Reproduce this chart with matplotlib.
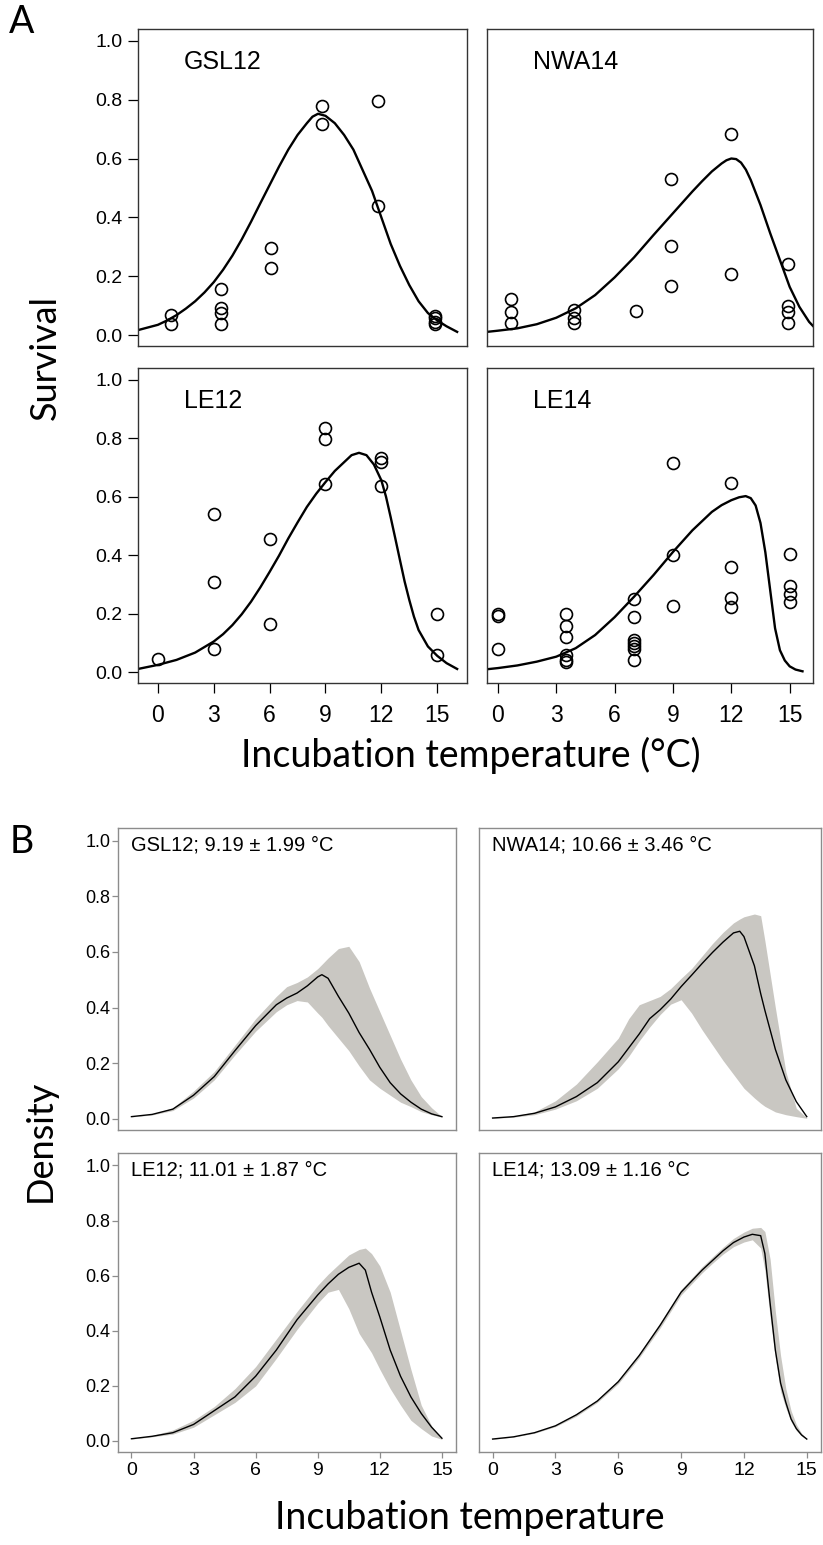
import matplotlib
matplotlib.use("Agg")
import matplotlib.pyplot as plt

plt.rcParams['font.family'] = ['Liberation Sans', 'DejaVu Sans']

# ---------- panel A: survival points + fitted curves ----------
a_names = ["GSL12", "NWA14", "LE12", "LE14"]

gsl12_x = [0.7, 0.7, 3.4, 3.4, 3.4, 3.4, 6.1, 6.1, 8.8, 8.8, 11.8, 11.8, 14.9, 14.9, 14.9, 14.9]
gsl12_y = [0.070, 0.037, 0.155, 0.093, 0.074, 0.037, 0.297, 0.229, 0.779, 0.718, 0.794, 0.440,
           0.065, 0.057, 0.045, 0.037]
nwa14_x = [0.66, 0.66, 0.66, 3.9, 3.9, 3.9, 7.1, 8.9, 8.9, 8.9, 12.0, 12.0, 14.9, 14.9, 14.9, 14.9]
nwa14_y = [0.121, 0.079, 0.040, 0.087, 0.059, 0.040, 0.082, 0.531, 0.303, 0.168, 0.683, 0.206,
           0.240, 0.099, 0.079, 0.040]
le12_x = [0, 3, 3, 3, 6, 6, 9, 9, 9, 12, 12, 12, 15, 15]
le12_y = [0.045, 0.542, 0.307, 0.078, 0.456, 0.166, 0.834, 0.798, 0.644, 0.732, 0.718, 0.638,
          0.199, 0.059]
le14_x = [0, 0, 0, 3.5, 3.5, 3.5, 3.5, 3.5, 3.5, 7, 7, 7, 7, 7, 7, 7, 9, 9, 9,
          12, 12, 12, 12, 15, 15, 15, 15]
le14_y = [0.199, 0.192, 0.078, 0.199, 0.159, 0.119, 0.059, 0.042, 0.036,
          0.249, 0.188, 0.110, 0.099, 0.088, 0.078, 0.040, 0.716, 0.402, 0.226,
          0.647, 0.359, 0.252, 0.224, 0.405, 0.294, 0.269, 0.241]

gsl12_fit_x = [-1.07, 0, 0.5, 1, 1.5, 2, 2.5, 3, 3.5, 4, 4.5, 5, 5.5, 6, 6.5, 7, 7.5, 8, 8.3, 8.6,
               9, 9.5, 10, 10.5, 11, 11.5, 12, 12.5, 13, 13.5, 14, 14.5, 15, 15.5, 16.07]
gsl12_fit_y = [0.017, 0.035, 0.05, 0.068, 0.09, 0.115, 0.145, 0.18, 0.222, 0.27, 0.325, 0.385,
               0.448, 0.51, 0.572, 0.63, 0.68, 0.72, 0.742, 0.752, 0.745, 0.72, 0.68, 0.63,
               0.56, 0.49, 0.40, 0.31, 0.235, 0.17, 0.115, 0.075, 0.05, 0.03, 0.011]
nwa14_fit_x = [-0.56, 0, 1, 2, 3, 4, 5, 6, 7, 8, 9, 10, 10.5, 11, 11.5, 11.75, 12, 12.25, 12.5,
               12.75, 13, 13.5, 14, 14.5, 15, 15.5, 16, 16.2]
nwa14_fit_y = [0.011, 0.015, 0.023, 0.037, 0.059, 0.091, 0.136, 0.196, 0.264, 0.34, 0.414,
               0.488, 0.523, 0.556, 0.583, 0.594, 0.60, 0.598, 0.586, 0.562, 0.527, 0.442,
               0.346, 0.255, 0.164, 0.096, 0.045, 0.031]
le12_fit_x = [-1.07, 0, 1, 2, 3, 3.5, 4, 4.5, 5, 5.5, 6, 6.5, 7, 7.5, 8, 8.5, 9, 9.5, 10, 10.4,
              10.8, 11.2, 11.6, 12, 12.25, 12.5, 12.75, 13, 13.25, 13.5, 13.75, 14, 14.5, 15,
              15.5, 16.07]
le12_fit_y = [0.011, 0.025, 0.042, 0.067, 0.105, 0.13, 0.161, 0.198, 0.241, 0.29, 0.343, 0.398,
              0.457, 0.512, 0.565, 0.61, 0.65, 0.688, 0.718, 0.742, 0.75, 0.742, 0.71, 0.656,
              0.60, 0.53, 0.457, 0.383, 0.31, 0.247, 0.19, 0.144, 0.088, 0.056, 0.031, 0.011]
le14_fit_x = [-0.56, 0, 1, 2, 3, 4, 5, 6, 7, 8, 9, 10, 11, 11.5, 12, 12.4, 12.74, 13, 13.25,
              13.5, 13.75, 14, 14.25, 14.5, 14.75, 15, 15.3, 15.66]
le14_fit_y = [0.010, 0.014, 0.023, 0.036, 0.053, 0.082, 0.127, 0.188, 0.258, 0.332, 0.411,
              0.485, 0.548, 0.571, 0.588, 0.598, 0.602, 0.595, 0.57, 0.51, 0.41, 0.28, 0.15,
              0.075, 0.04, 0.02, 0.009, 0.003]

a_points = [(gsl12_x, gsl12_y), (nwa14_x, nwa14_y), (le12_x, le12_y), (le14_x, le14_y)]
a_fits = [(gsl12_fit_x, gsl12_fit_y), (nwa14_fit_x, nwa14_fit_y),
          (le12_fit_x, le12_fit_y), (le14_fit_x, le14_fit_y)]

# ---------- panel B: density mean + band ----------
b_labels = ["GSL12; 9.19 ± 1.99 °C", "NWA14; 10.66 ± 3.46 °C",
            "LE12; 11.01 ± 1.87 °C", "LE14; 13.09 ± 1.16 °C"]

gsl12_b_x = [0, 1, 2, 3, 4, 5, 6, 7, 7.5, 8, 8.5, 9, 9.2, 9.5, 10, 10.5, 11, 11.5, 12, 12.5,
             13, 13.5, 14, 14.5, 15]
gsl12_b_mean = [0.008, 0.016, 0.035, 0.085, 0.152, 0.245, 0.335, 0.41, 0.434, 0.452, 0.478,
                0.51, 0.518, 0.505, 0.44, 0.38, 0.31, 0.25, 0.185, 0.13, 0.09, 0.06, 0.035,
                0.018, 0.008]
gsl12_b_lo = [0.007, 0.014, 0.03, 0.075, 0.14, 0.23, 0.315, 0.385, 0.41, 0.425, 0.42, 0.38,
              0.365, 0.335, 0.29, 0.245, 0.19, 0.14, 0.11, 0.085, 0.06, 0.044, 0.026, 0.015,
              0.006]
gsl12_b_hi = [0.008, 0.017, 0.04, 0.10, 0.17, 0.265, 0.36, 0.44, 0.475, 0.49, 0.51, 0.54,
              0.555, 0.578, 0.612, 0.62, 0.565, 0.47, 0.385, 0.30, 0.215, 0.14, 0.08, 0.04,
              0.008]

nwa14_b_x = [0, 1, 2, 3, 4, 5, 6, 6.5, 7, 7.5, 8, 8.5, 9, 9.5, 10, 10.5, 11, 11.5, 11.8, 12,
             12.5, 12.8, 13, 13.5, 14, 14.5, 15]
nwa14_b_mean = [0.003, 0.008, 0.02, 0.043, 0.08, 0.13, 0.205, 0.255, 0.305, 0.36, 0.392, 0.43,
                0.475, 0.516, 0.558, 0.598, 0.635, 0.668, 0.674, 0.655, 0.55, 0.45, 0.39,
                0.25, 0.14, 0.062, 0.008]
nwa14_b_lo = [0.002, 0.006, 0.015, 0.035, 0.065, 0.11, 0.18, 0.225, 0.28, 0.33, 0.375, 0.412,
              0.428, 0.38, 0.32, 0.265, 0.21, 0.16, 0.13, 0.11, 0.075, 0.056, 0.045, 0.025,
              0.015, 0.008, 0.002]
nwa14_b_hi = [0.004, 0.01, 0.025, 0.065, 0.125, 0.205, 0.29, 0.36, 0.41, 0.425, 0.44, 0.468,
              0.505, 0.54, 0.585, 0.63, 0.67, 0.704, 0.718, 0.726, 0.736, 0.73, 0.64, 0.40,
              0.17, 0.038, 0.004]

le12_b_x = [0, 1, 2, 3, 4, 5, 6, 7, 8, 9, 9.5, 10, 10.5, 11, 11.3, 11.6, 12, 12.5, 13, 13.5,
            14, 14.5, 15]
le12_b_mean = [0.008, 0.017, 0.03, 0.06, 0.11, 0.16, 0.235, 0.33, 0.44, 0.53, 0.57, 0.605,
               0.63, 0.645, 0.62, 0.54, 0.45, 0.33, 0.235, 0.16, 0.10, 0.05, 0.01]
le12_b_lo = [0.007, 0.015, 0.025, 0.05, 0.095, 0.14, 0.2, 0.3, 0.405, 0.5, 0.54, 0.55, 0.48,
             0.39, 0.355, 0.32, 0.26, 0.19, 0.13, 0.075, 0.045, 0.018, 0.006]
le12_b_hi = [0.008, 0.02, 0.04, 0.075, 0.125, 0.19, 0.27, 0.37, 0.47, 0.565, 0.605, 0.64,
             0.675, 0.695, 0.70, 0.68, 0.635, 0.54, 0.40, 0.26, 0.13, 0.055, 0.01]

le14_b_x = [0, 1, 2, 3, 4, 5, 6, 7, 8, 9, 10, 10.5, 11, 11.5, 12, 12.4, 12.8, 13, 13.25, 13.5,
            13.75, 14, 14.25, 14.5, 14.75, 15]
le14_b_mean = [0.007, 0.015, 0.03, 0.055, 0.095, 0.145, 0.215, 0.31, 0.42, 0.54, 0.62, 0.655,
               0.69, 0.72, 0.74, 0.75, 0.745, 0.68, 0.50, 0.33, 0.21, 0.14, 0.08, 0.045,
               0.022, 0.007]
le14_b_lo = [0.006, 0.014, 0.028, 0.052, 0.09, 0.14, 0.208, 0.302, 0.41, 0.53, 0.61, 0.645,
             0.678, 0.705, 0.722, 0.73, 0.70, 0.62, 0.45, 0.30, 0.18, 0.12, 0.07, 0.038,
             0.018, 0.006]
le14_b_hi = [0.008, 0.016, 0.032, 0.058, 0.1, 0.15, 0.222, 0.318, 0.43, 0.55, 0.632, 0.668,
             0.703, 0.735, 0.758, 0.772, 0.775, 0.76, 0.66, 0.47, 0.31, 0.19, 0.11, 0.06,
             0.028, 0.008]

b_series = [(gsl12_b_x, gsl12_b_mean, gsl12_b_lo, gsl12_b_hi),
            (nwa14_b_x, nwa14_b_mean, nwa14_b_lo, nwa14_b_hi),
            (le12_b_x, le12_b_mean, le12_b_lo, le12_b_hi),
            (le14_b_x, le14_b_mean, le14_b_lo, le14_b_hi)]

temp_ticks = [0, 3, 6, 9, 12, 15]
y_ticks = [0.0, 0.2, 0.4, 0.6, 0.8, 1.0]

W, H = 823, 1545


def px_rect(x0, y0, x1, y1):
    # pixel box (top-left origin) -> figure fraction
    return [x0 / W, 1 - y1 / H, (x1 - x0) / W, (y1 - y0) / H]


fig = plt.figure(figsize=(W / 100, H / 100), dpi=100)
big_font = ['Lato', 'DejaVu Sans']

# panel A
a_boxes = [(138, 29, 467, 346), (487, 29, 813, 346), (138, 368, 467, 683), (487, 368, 813, 683)]
a_xlims = [(-1.07, 16.6), (-0.56, 16.2), (-1.07, 16.6), (-0.56, 16.2)]
for i in range(4):
    ax = fig.add_axes(px_rect(*a_boxes[i]))
    px, py = a_points[i]
    fx, fy = a_fits[i]
    ax.plot(fx, fy, color="black", lw=1.7, zorder=2)
    ax.plot(px, py, linestyle="none", marker="o", ms=8.6, mfc="none", mec="black", mew=1.2,
            zorder=3)
    ax.set_xlim(*a_xlims[i])
    ax.set_ylim(-0.037, 1.04)
    for s in ax.spines.values():
        s.set_color("#333333")
        s.set_linewidth(1.0)
    ax.text(0.14, 0.895, a_names[i], transform=ax.transAxes, fontsize=18, va="center")
    if i % 2 == 0:
        ax.set_yticks(y_ticks)
        ax.set_yticklabels(["%.1f" % v for v in y_ticks])
        ax.tick_params(axis="y", length=7, width=0.9, pad=4, labelsize=14)
    else:
        ax.set_yticks([])
    if i >= 2:
        ax.set_xticks(temp_ticks)
        ax.tick_params(axis="x", length=7, width=0.9, pad=8, labelsize=16.5)
    else:
        ax.set_xticks([])

# panel B
b_boxes = [(118, 828, 456, 1130), (479, 828, 821, 1130), (118, 1153, 456, 1452),
           (479, 1153, 821, 1452)]
for i in range(4):
    ax = fig.add_axes(px_rect(*b_boxes[i]))
    bx, bm, blo, bhi = b_series[i]
    ax.fill_between(bx, blo, bhi, color="#c9c7c2", lw=0, zorder=1)
    ax.plot(bx, bm, color="black", lw=1.0, zorder=2)
    ax.set_xlim(-0.65, 15.68)
    ax.set_ylim(-0.04, 1.045)
    for s in ax.spines.values():
        s.set_color("#8c8c8c")
        s.set_linewidth(1.0)
    ax.text(0.038, 0.944, b_labels[i], transform=ax.transAxes, fontsize=14.5, va="center")
    if i % 2 == 0:
        ax.set_yticks(y_ticks)
        ax.set_yticklabels(["%.1f" % v for v in y_ticks])
        ax.tick_params(axis="y", length=4, width=0.9, pad=1.5, labelsize=13, color="#8c8c8c")
    else:
        ax.set_yticks([])
    if i >= 2:
        ax.set_xticks(temp_ticks)
        ax.tick_params(axis="x", length=4, width=0.9, pad=3, labelsize=14, color="#8c8c8c")
    else:
        ax.set_xticks([])

# labels
fig.text(22 / W, 1 - 22 / H, "A", fontsize=27, family=big_font, ha="center", va="center")
fig.text(22 / W, 1 - 842 / H, "B", fontsize=27, family=big_font, ha="center", va="center")
fig.text(45 / W, 1 - 357 / H, "Survival", fontsize=26, family=big_font, rotation=90,
         ha="center", va="center")
fig.text(40 / W, 1 - 1141 / H, "Density", fontsize=26, family=big_font, rotation=90,
         ha="center", va="center")
fig.text(471 / W, 1 - 755 / H, "Incubation temperature (°C)", fontsize=27, family=big_font,
         ha="center", va="center")
fig.text(470 / W, 1 - 1518 / H, "Incubation temperature", fontsize=27, family=big_font,
         ha="center", va="center")

fig.savefig("out.png", dpi=100)
